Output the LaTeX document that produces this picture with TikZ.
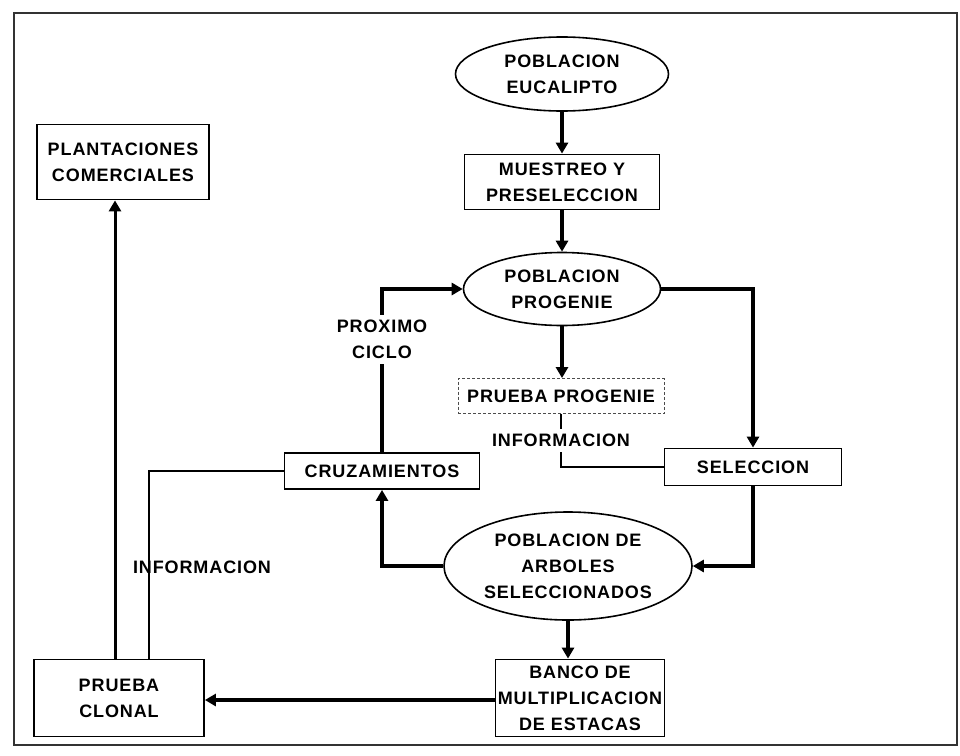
\documentclass[tikz,border=0pt]{standalone}
\usepackage{fontspec}
\newfontfamily\lblfont[LetterSpace=5]{Liberation Sans}
\usetikzlibrary{arrows.meta, shapes.geometric}

\begin{document}
\begin{tikzpicture}[x=1pt, y=-1pt, >={Triangle[length=11pt, width=12pt]},
          font=\lblfont\bfseries\fontsize{18}{26}\selectfont,
          box/.style={draw, line width=1.8pt, inner sep=0pt, align=center},
          oval/.style={ellipse, draw, line width=1.6pt, inner sep=0pt,
                       align=center},
          thk/.style={->, line width=3.5pt},
          thn/.style={line width=1.2pt},
          lbl/.style={align=center, inner xsep=2pt, inner ysep=5pt}]
        \useasboundingbox (0,0) rectangle (960,755);
        \draw[black!80, line width=2pt] (14,13) rectangle (957,745);
        \node[oval, minimum width=213, minimum height=74] (euc) at (562,74)
              {POBLACION\\EUCALIPTO};
        \node[box, minimum width=195, minimum height=55] (mues) at (562,182)
              {MUESTREO Y\\PRESELECCION};
        \node[oval, minimum width=197, minimum height=73] (prog) at (562,289)
              {POBLACION\\PROGENIE};
        \node[box, draw=black!70, line width=0.9pt, dash pattern=on 3pt off 2pt,
              minimum width=206, minimum height=35] (pprog) at (561,396)
              {PRUEBA PROGENIE};
        \node[box, minimum width=177, minimum height=37] (sel) at (753,467)
              {SELECCION};
        \node[box, minimum width=195, minimum height=36] (cruz) at (382,471)
              {CRUZAMIENTOS};
        \node[oval, minimum width=248, minimum height=108] (arb) at (568,566)
              {POBLACION DE\\ARBOLES\\SELECCIONADOS};
        \node[box, minimum width=172, minimum height=75] (plant) at (123,162)
              {PLANTACIONES\\COMERCIALES};
        \node[box, minimum width=170, minimum height=77] (clon) at (119,698)
              {PRUEBA\\CLONAL};
        \node[box, minimum width=169, minimum height=77] (banco) at (580,698)
              {BANCO DE\\MULTIPLICACION\\DE ESTACAS};
        \foreach \a/\b in {euc/mues, mues/prog, prog/pprog}{
          \draw[thk] (\a.south) -- (\a.south |- \b.north);
        }
        \draw[thk] (prog.east) -| (sel.north);
        \draw[thk] (sel.south) |- (arb.east);
        \draw[thk] (arb.west) -| (cruz.south);
        \draw[thk] (cruz.north) |- node[lbl, fill=white, pos=0.345] (ciclo)
              {PROXIMO\\CICLO} (prog.west);
        \draw[thn] (pprog.south) |- node[lbl, fill=white, pos=0.25] (info1)
              {INFORMACION} (sel.west);
        \draw[thk] (arb.south) -- (arb.south |- banco.north);
        \draw[thk] (banco.west |- 0,700) -- (clon.east |- 0,700);
        \coordinate (cl) at ([xshift=-4]clon.north);
        \draw[->, line width=3pt] (cl) -- (cl |- plant.south);
        \draw[thn] (cruz.west) -| ([xshift=30]clon.north);
        \node[lbl] (info2) at (202,567) {INFORMACION};
      \end{tikzpicture}
\end{document}
